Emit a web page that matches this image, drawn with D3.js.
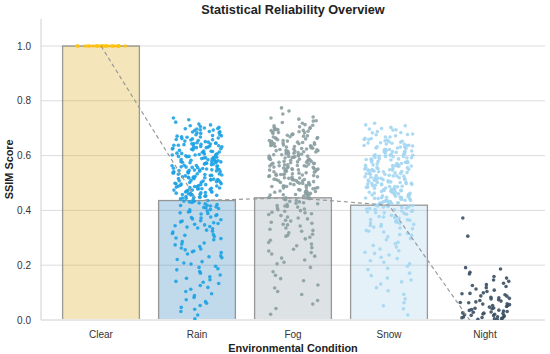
<!DOCTYPE html>
<html>
<head>
<meta charset="utf-8">
<script src="https://cdn.jsdelivr.net/npm/d3@7"></script>
<style>
  html, body { margin: 0; padding: 0; background: #ffffff; }
  #chart { width: 550px; height: 354px; }
</style>
</head>
<body>
<div id="chart"></div>
<script>
// Categories and bar heights (mean SSIM per condition)
const conditions = ['Clear', 'Rain', 'Fog', 'Snow', 'Night'];
const meanScores = [1.0, 0.436, 0.446, 0.419, -0.08];
const yTicks = [0.0, 0.2, 0.4, 0.6, 0.8, 1.0];

// Per-sample SSIM scores
const clearScores = [1.0, 1.0, 1.0, 1.0, 1.0, 1.0, 1.0, 1.0, 1.0, 1.0, 1.0, 1.0,
  1.0, 1.0, 1.0, 1.0, 1.0, 1.0, 1.0, 1.0, 1.0, 1.0, 1.0, 1.0];

const rainScores = [
  0.737, 0.722, 0.709, 0.731, 0.703, 0.715, 0.706,
  0.694, 0.681, 0.668, 0.657, 0.699, 0.673, 0.662, 0.688, 0.651, 0.676, 0.692, 0.664, 0.683, 0.655, 0.697, 0.671, 0.659, 0.686,
  0.646, 0.633, 0.619, 0.604, 0.642, 0.627, 0.611, 0.638, 0.623, 0.608, 0.649, 0.631, 0.615, 0.602, 0.644, 0.636, 0.621, 0.609,
  0.647, 0.629, 0.613, 0.640, 0.625, 0.606, 0.634, 0.617, 0.643, 0.628,
  0.597, 0.583, 0.569, 0.552, 0.591, 0.576, 0.561, 0.594, 0.579, 0.564, 0.558, 0.588, 0.573, 0.556, 0.599, 0.585, 0.567, 0.553,
  0.592, 0.578, 0.562, 0.596, 0.581, 0.571, 0.559, 0.589, 0.574, 0.565, 0.598, 0.586, 0.554, 0.577,
  0.548, 0.534, 0.519, 0.503, 0.542, 0.527, 0.511, 0.545, 0.531, 0.516, 0.507, 0.539, 0.524, 0.509, 0.549, 0.536, 0.521, 0.502,
  0.544, 0.529, 0.513, 0.547, 0.533, 0.518, 0.505, 0.541, 0.526, 0.514, 0.546, 0.537, 0.522, 0.508,
  0.497, 0.483, 0.468, 0.452, 0.491, 0.476, 0.461, 0.494, 0.479, 0.464, 0.456, 0.488, 0.473, 0.458, 0.499, 0.485, 0.467, 0.453,
  0.492, 0.478, 0.462, 0.496, 0.481, 0.471, 0.459, 0.487, 0.474, 0.465,
  0.448, 0.434, 0.419, 0.403, 0.442, 0.427, 0.411, 0.445, 0.431, 0.416, 0.407, 0.439, 0.424, 0.409, 0.449, 0.436, 0.421, 0.402,
  0.444, 0.429, 0.413, 0.447, 0.433, 0.418,
  0.398, 0.391, 0.384, 0.376, 0.369, 0.362, 0.355, 0.394, 0.387, 0.372, 0.358, 0.396, 0.381, 0.366, 0.352, 0.389, 0.374, 0.361,
  0.347, 0.339, 0.328, 0.316, 0.305, 0.344, 0.333, 0.321, 0.309, 0.349, 0.336, 0.324, 0.312, 0.341,
  0.297, 0.286, 0.274, 0.263, 0.252, 0.293, 0.281, 0.268, 0.256, 0.299, 0.277, 0.259,
  0.246, 0.234, 0.221, 0.208, 0.241, 0.227, 0.213, 0.249, 0.231, 0.204,
  0.196, 0.183, 0.171, 0.158, 0.192, 0.177, 0.164, 0.187, 0.152,
  0.147, 0.133, 0.119, 0.104, 0.141, 0.126, 0.112, 0.138,
  0.096, 0.082, 0.067, 0.053, 0.089, 0.074, 0.061,
  0.046, 0.031, 0.018, 0.004, 0.039,
  0.712, 0.698, 0.684, 0.669, 0.653, 0.638, 0.624, 0.607, 0.593, 0.578, 0.563, 0.547, 0.532, 0.518, 0.503, 0.489, 0.474, 0.458,
  0.701, 0.687, 0.672, 0.658, 0.641, 0.629, 0.612, 0.597, 0.583, 0.569, 0.551, 0.538, 0.523, 0.509, 0.494, 0.479, 0.463, 0.451,
  0.693, 0.676, 0.661, 0.645, 0.632, 0.616, 0.602, 0.587, 0.572, 0.557, 0.543, 0.528, 0.513, 0.497, 0.482, 0.467,
  0.667, 0.636, 0.604, 0.574, 0.541, 0.516, 0.486, 0.455
];

const fogScores = [
  0.774, 0.763, 0.752,
  0.741, 0.733, 0.726, 0.718, 0.709, 0.702, 0.737, 0.721, 0.713, 0.705,
  0.698, 0.691, 0.684, 0.676, 0.669, 0.662, 0.655, 0.694, 0.687, 0.672, 0.658, 0.696, 0.681, 0.666, 0.652, 0.689, 0.674, 0.661,
  0.699, 0.679, 0.664, 0.653,
  0.648, 0.641, 0.634, 0.626, 0.619, 0.612, 0.605, 0.644, 0.637, 0.622, 0.608, 0.646, 0.631, 0.616, 0.602, 0.639, 0.624, 0.611,
  0.649, 0.629, 0.614, 0.603, 0.643, 0.633, 0.618, 0.607, 0.647, 0.627, 0.613, 0.636,
  0.598, 0.591, 0.584, 0.576, 0.569, 0.562, 0.555, 0.594, 0.587, 0.572, 0.558, 0.596, 0.581, 0.566, 0.552, 0.589, 0.574, 0.561,
  0.599, 0.579, 0.564, 0.553, 0.593, 0.583, 0.568, 0.557, 0.597, 0.577, 0.563, 0.586, 0.571, 0.551,
  0.548, 0.541, 0.534, 0.526, 0.519, 0.512, 0.505, 0.544, 0.537, 0.522, 0.508, 0.546, 0.531, 0.516, 0.502, 0.539, 0.524, 0.511,
  0.549, 0.529, 0.514, 0.503, 0.543, 0.533, 0.518, 0.507, 0.547, 0.527, 0.513, 0.536,
  0.498, 0.491, 0.484, 0.476, 0.469, 0.462, 0.455, 0.494, 0.487, 0.472, 0.458, 0.496, 0.481, 0.466, 0.452, 0.489, 0.474, 0.461,
  0.499, 0.479, 0.464, 0.453, 0.493, 0.483, 0.468, 0.457,
  0.448, 0.439, 0.428, 0.416, 0.405, 0.444, 0.433, 0.421, 0.409, 0.446, 0.436, 0.424, 0.412, 0.441, 0.431, 0.418, 0.402, 0.443,
  0.426, 0.414,
  0.397, 0.388, 0.376, 0.364, 0.353, 0.393, 0.381, 0.369, 0.357, 0.399, 0.385, 0.372, 0.361, 0.391,
  0.347, 0.336, 0.324, 0.313, 0.302, 0.343, 0.331, 0.318, 0.306, 0.349, 0.327, 0.309,
  0.296, 0.283, 0.271, 0.258, 0.291, 0.277, 0.264, 0.252,
  0.246, 0.233, 0.219, 0.205, 0.241, 0.226, 0.211,
  0.192, 0.176, 0.163, 0.151,
  0.143, 0.128, 0.117, 0.104,
  0.093, 0.071, 0.058,
  0.042, 0.021,
  0.727, 0.711, 0.694, 0.678, 0.663, 0.647, 0.632, 0.618, 0.603, 0.587, 0.572, 0.558, 0.543, 0.528, 0.512, 0.497, 0.482, 0.466,
  0.703, 0.686, 0.671, 0.655, 0.639, 0.624, 0.609, 0.594, 0.579, 0.563, 0.548, 0.533, 0.517, 0.502, 0.487, 0.471, 0.456,
  0.692, 0.668, 0.644, 0.621, 0.598, 0.576, 0.554, 0.531, 0.508, 0.489, 0.461, 0.683, 0.617, 0.566, 0.523
];

const snowScores = [
  0.718, 0.709, 0.703, 0.712,
  0.697, 0.688, 0.679, 0.668, 0.659, 0.651, 0.693, 0.684, 0.672, 0.663, 0.654, 0.699, 0.676, 0.657,
  0.647, 0.638, 0.631, 0.623, 0.617, 0.609, 0.604, 0.642, 0.635, 0.621, 0.606, 0.645, 0.628, 0.614, 0.601, 0.637, 0.626, 0.612,
  0.649, 0.632, 0.615, 0.603, 0.641, 0.619,
  0.596, 0.589, 0.582, 0.574, 0.567, 0.561, 0.553, 0.593, 0.586, 0.571, 0.557, 0.598, 0.579, 0.564, 0.551, 0.588, 0.576, 0.562,
  0.597, 0.578, 0.565, 0.554, 0.591, 0.584, 0.569, 0.556, 0.599, 0.575, 0.563, 0.587,
  0.547, 0.542, 0.535, 0.527, 0.518, 0.511, 0.504, 0.545, 0.538, 0.523, 0.509, 0.548, 0.532, 0.515, 0.503, 0.541, 0.525, 0.512,
  0.549, 0.528, 0.517, 0.506, 0.544, 0.534, 0.519, 0.508, 0.546, 0.526, 0.514, 0.537, 0.521, 0.502,
  0.497, 0.492, 0.485, 0.477, 0.468, 0.461, 0.454, 0.495, 0.488, 0.473, 0.459, 0.498, 0.482, 0.465, 0.453, 0.491, 0.475, 0.462,
  0.499, 0.478, 0.466, 0.456, 0.494, 0.484, 0.469, 0.457, 0.496, 0.476, 0.463, 0.487, 0.471, 0.451,
  0.449, 0.441, 0.434, 0.427, 0.419, 0.412, 0.405, 0.446, 0.438, 0.423, 0.408, 0.447, 0.431, 0.416, 0.402, 0.443, 0.425, 0.411,
  0.448, 0.429, 0.414, 0.403, 0.444, 0.436, 0.418, 0.407, 0.445, 0.428, 0.413, 0.437,
  0.398, 0.392, 0.386, 0.378, 0.371, 0.364, 0.357, 0.395, 0.389, 0.374, 0.359, 0.397, 0.382, 0.367, 0.353, 0.391, 0.376, 0.362,
  0.399, 0.379, 0.366, 0.355,
  0.348, 0.339, 0.327, 0.316, 0.304, 0.345, 0.333, 0.321, 0.309, 0.349, 0.336, 0.324, 0.312, 0.342,
  0.297, 0.284, 0.272, 0.259, 0.293, 0.278, 0.266, 0.253,
  0.247, 0.237, 0.224, 0.211, 0.243, 0.229, 0.216, 0.205,
  0.196, 0.184, 0.171, 0.162, 0.189, 0.153,
  0.146, 0.131, 0.118, 0.107, 0.139,
  0.094, 0.077, 0.063, 0.052,
  0.041, 0.018,
  0.694, 0.677, 0.662, 0.646, 0.631, 0.616, 0.601, 0.586, 0.571, 0.556, 0.541, 0.526, 0.511, 0.496, 0.481, 0.466, 0.452, 0.437,
  0.683, 0.668, 0.652, 0.637, 0.622, 0.607, 0.592, 0.577, 0.562, 0.547, 0.532, 0.517, 0.502, 0.487, 0.472, 0.458, 0.443, 0.428,
  0.659, 0.628, 0.597, 0.566, 0.535, 0.504, 0.473, 0.441, 0.613, 0.549, 0.486, 0.419, 0.425, 0.432
];

const nightScores = [
  0.372, 0.306, 0.191, 0.186, 0.174, 0.168, 0.159, 0.153, 0.146, 0.141, 0.134, 0.129, 0.122, 0.118,
  0.113, 0.109, 0.104, 0.099, 0.096, 0.092, 0.087, 0.083, 0.081, 0.077, 0.074, 0.069, 0.066, 0.063,
  0.059, 0.056, 0.053, 0.049, 0.047, 0.044, 0.041, 0.038, 0.036, 0.033, 0.031, 0.028, 0.026, 0.024,
  0.022, 0.019, 0.017, 0.015, 0.012, 0.011, 0.009, 0.007, 0.005, 0.003, 0.002, 0.088, 0.071, 0.058,
  0.043, 0.029, 0.016, 0.008, 0.126, 0.097, 0.064, 0.035, 0.021, 0.013, 0.004, 0.079, 0.052, 0.025
];

const scoreSets = [clearScores, rainScores, fogScores, snowScores, nightScores];
const dotColors = ['#ffc20e', '#1ca2e3', '#8b9fa1', '#a3d6f2', '#3a4e62'];
const barColors = ['#d9ab1a', '#2e86c1', '#8e9ea5', '#a5d0eb', '#2c3e50'];

const W = 550, H = 354;
const plot = { left: 41, right: 545, top: 18.6, bottom: 320 };

const svg = d3.select('#chart').append('svg')
  .attr('width', W).attr('height', H)
  .attr('viewBox', `0 0 ${W} ${H}`)
  .style('font-family', '"Liberation Sans", Arial, sans-serif');

const defs = svg.append('defs');
defs.append('clipPath').attr('id', 'plot-clip')
  .append('rect')
  .attr('x', plot.left).attr('y', plot.top)
  .attr('width', plot.right - plot.left).attr('height', plot.bottom - plot.top);
// bars stop above the baseline so a bar below zero leaves no edge
defs.append('clipPath').attr('id', 'bar-clip')
  .append('rect')
  .attr('x', plot.left).attr('y', plot.top)
  .attr('width', plot.right - plot.left).attr('height', plot.bottom - plot.top - 1);

const x = d3.scaleBand()
  .domain(conditions)
  .range([53, 533])
  .paddingInner(0.2)
  .paddingOuter(0.1);

const y = d3.scaleLinear()
  .domain([0, 1.1])
  .range([plot.bottom, plot.top]);

// Grid
svg.append('g').selectAll('line')
  .data(yTicks.slice(1))
  .join('line')
  .attr('x1', plot.left).attr('x2', plot.right)
  .attr('y1', d => y(d)).attr('y2', d => y(d))
  .attr('stroke', '#dcdcdc').attr('stroke-width', 1);

// Spines
svg.append('line')
  .attr('x1', plot.left).attr('x2', plot.left)
  .attr('y1', plot.top).attr('y2', plot.bottom)
  .attr('stroke', '#d0d0d0').attr('stroke-width', 1);
svg.append('line')
  .attr('x1', plot.left).attr('x2', plot.right)
  .attr('y1', plot.bottom).attr('y2', plot.bottom)
  .attr('stroke', '#d0d0d0').attr('stroke-width', 1);

// Bars
svg.append('g').attr('clip-path', 'url(#bar-clip)')
  .selectAll('rect')
  .data(conditions)
  .join('rect')
  .attr('x', d => x(d))
  .attr('width', x.bandwidth())
  .attr('y', (d, i) => Math.min(y(meanScores[i]), y(0)))
  .attr('height', (d, i) => Math.abs(y(0) - y(meanScores[i])))
  .attr('fill', (d, i) => barColors[i])
  .attr('fill-opacity', 0.3)
  .attr('stroke', '#7a7a7a')
  .attr('stroke-opacity', 0.75)
  .attr('stroke-width', 1.3);

const inner = svg.append('g').attr('clip-path', 'url(#plot-clip)');

// Strip points, spread sideways with a fixed hash so the picture is stable
function jitter(i, k) {
  const s = Math.sin(i * 12.9898 + k * 78.233) * 43758.5453;
  return s - Math.floor(s);
}
const spread = x.step() * 0.26;

scoreSets.forEach((scores, k) => {
  const cx = x(conditions[k]) + x.bandwidth() / 2;
  inner.append('g').selectAll('circle')
    .data(scores)
    .join('circle')
    .attr('cx', (d, i) => cx + (jitter(i, k + 1) - 0.5) * 2 * spread)
    .attr('cy', d => y(d))
    .attr('r', 1.8)
    .attr('fill', dotColors[k])
    .attr('fill-opacity', 0.9);
});

// Dashed line through the means
inner.append('path')
  .datum(meanScores)
  .attr('d', d3.line()
    .x((d, i) => x(conditions[i]) + x.bandwidth() / 2)
    .y(d => y(d)))
  .attr('fill', 'none')
  .attr('stroke', '#999999')
  .attr('stroke-width', 1.2)
  .attr('stroke-dasharray', '4,3');

// Y tick labels
svg.append('g').selectAll('text')
  .data(yTicks)
  .join('text')
  .attr('x', 31).attr('y', d => y(d))
  .attr('dy', '0.35em')
  .attr('text-anchor', 'end')
  .attr('font-size', 10)
  .attr('fill', '#333333')
  .text(d => d.toFixed(1));

// X tick labels
svg.append('g').selectAll('text')
  .data(conditions)
  .join('text')
  .attr('x', d => x(d) + x.bandwidth() / 2)
  .attr('y', 337.5)
  .attr('text-anchor', 'middle')
  .attr('font-size', 10)
  .attr('fill', '#333333')
  .text(d => d);

// Titles
svg.append('text')
  .attr('x', (plot.left + plot.right) / 2).attr('y', 14)
  .attr('text-anchor', 'middle')
  .attr('font-size', 12.7).attr('font-weight', 'bold')
  .attr('fill', '#222222')
  .text('Statistical Reliability Overview');

svg.append('text')
  .attr('x', (plot.left + plot.right) / 2).attr('y', 351.5)
  .attr('text-anchor', 'middle')
  .attr('font-size', 10.9).attr('font-weight', 'bold')
  .attr('fill', '#222222')
  .text('Environmental Condition');

svg.append('text')
  .attr('transform', `translate(12.5, ${(plot.top + plot.bottom) / 2}) rotate(-90)`)
  .attr('text-anchor', 'middle')
  .attr('font-size', 10.9).attr('font-weight', 'bold')
  .attr('fill', '#222222')
  .text('SSIM Score');
</script>
</body>
</html>
